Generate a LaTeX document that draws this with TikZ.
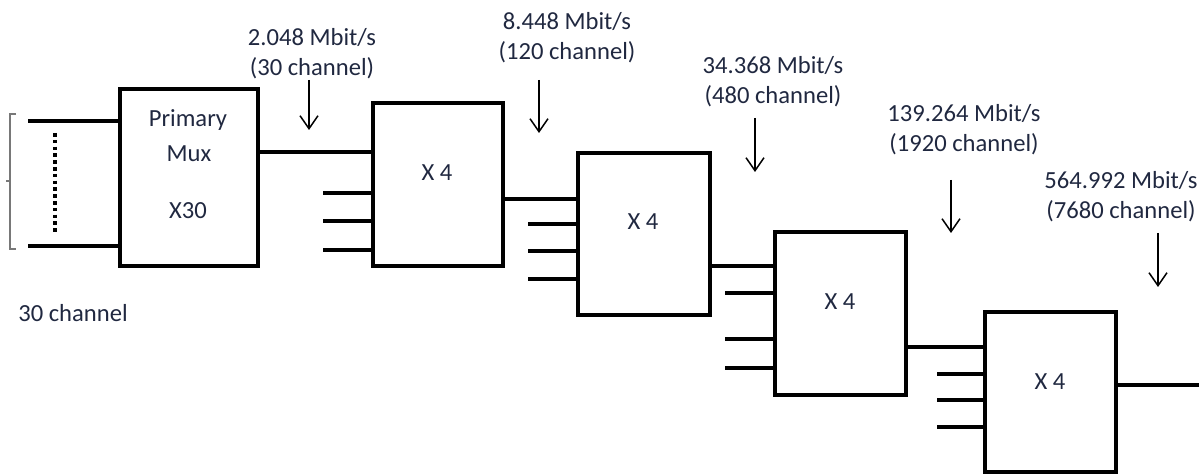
\documentclass[tikz,border=0pt]{standalone}
\usepackage{fontspec}
\setmainfont{Carlito}
\usepackage{tikz}
\usetikzlibrary{arrows.meta,calc}
\definecolor{labelink}{RGB}{32,40,64}
\definecolor{bracketgray}{RGB}{120,120,120}

\begin{document}
\begin{tikzpicture}[x=0.5pt, y=-0.5pt,
        muxbox/.style = {draw, line width=2pt, inner sep=0pt},
        wire/.style = {line width=2pt},
        rate/.style = {line width=0.75pt, -{Straight Barb[length=6.5pt,width=9pt]}},
        txt/.style = {text=labelink, font=\fontsize{12.3}{15}\selectfont, inner sep=0pt, align=center}]
        \useasboundingbox (0,0) rectangle (1199,475);

        % mux boxes
        \node[muxbox, minimum width=69pt, minimum height=88.5pt] (mux) at (189,177.5) {};
        \node[muxbox, minimum width=65pt, minimum height=81.5pt] (xa) at (438,184.5) {};
        \node[muxbox, minimum width=66pt, minimum height=81pt] (xb) at (644,234) {};
        \node[muxbox, minimum width=65.5pt, minimum height=81.5pt] (xc) at (840.5,313.5) {};
        \node[muxbox, minimum width=65.5pt, minimum height=80pt] (xd) at (1050.5,392) {};

        % box texts
        \node[txt] (prim) at (188,120) {Primary};
        \node[txt] (muxt) at (189,154) {Mux};
        \node[txt] (x30) at (188,211) {X30};
        \node[txt] (fa) at (437,173) {X 4};
        \node[txt] (fb) at (643,222) {X 4};
        \node[txt] (fc) at (840,302) {X 4};
        \node[txt] (fd) at (1050,382) {X 4};

        % primary inputs
        \coordinate (ch1) at (28,121);
        \coordinate (ch30) at (28,246);
        \path[draw, wire] (ch1) -- (ch1 -| mux.west);
        \path[draw, wire] (ch30) -- (ch30 -| mux.west);
        \path[draw, line width=2pt, dash pattern=on 1.8pt off 1.6pt] (55,133) -- (55,233);
        % bracket
        \path[draw, bracketgray, line width=0.6pt] (16,114) -| (10,249) -- (16,249);
        \path[draw, bracketgray, line width=0.6pt] (10,181) -- (6,181);
        \node[txt] (chan) at (73,313) {30 channel};

        % links between stages
        \coordinate (l1) at (0,152);
        \coordinate (l2) at (0,199);
        \coordinate (l3) at (0,266);
        \coordinate (l4) at (0,347);
        \coordinate (out) at (1199,385);
        \path[draw, wire] (mux.east |- l1) -- (xa.west |- l1);
        \path[draw, wire] (xa.east |- l2) -- (xb.west |- l2);
        \path[draw, wire] (xb.east |- l3) -- (xc.west |- l3);
        \path[draw, wire] (xc.east |- l4) -- (xd.west |- l4);
        \path[draw, wire] (xd.east |- out) -- (out);

        % tributary inputs
        \foreach \y/\n in {193/a,221/b,250/c}{
            \coordinate (ia\n) at (323,\y);
            \path[draw, wire] (ia\n) -- (ia\n -| xa.west);
        }
        \foreach \y/\n in {224/a,251/b,279/c}{
            \coordinate (ib\n) at (528,\y);
            \path[draw, wire] (ib\n) -- (ib\n -| xb.west);
        }
        \foreach \y/\n in {293/a,339/b,368/c}{
            \coordinate (ic\n) at (725,\y);
            \path[draw, wire] (ic\n) -- (ic\n -| xc.west);
        }
        \foreach \y/\n in {374/a,400/b,427/c}{
            \coordinate (id\n) at (937,\y);
            \path[draw, wire] (id\n) -- (id\n -| xd.west);
        }

        % bit rates
        \node[txt] (r1) at (312,54) {2.048 Mbit/s\\(30 channel)};
        \node[txt] (r2) at (567,38) {8.448 Mbit/s\\(120 channel)};
        \node[txt] (r3) at (773,82) {34.368 Mbit/s\\(480 channel)};
        \node[txt] (r4) at (964,130) {139.264 Mbit/s\\(1920 channel)};
        \node[txt] (r5) at (1121,197) {564.992 Mbit/s\\(7680 channel)};
        \coordinate (a1) at (309,80);
        \coordinate (a2) at (539,80);
        \coordinate (a3) at (755,118);
        \coordinate (a4) at (951,180);
        \coordinate (a5) at (1158,233);
        \path[draw, rate] (a1) -- ++(0,50);
        \path[draw, rate] (a2) -- ++(0,53);
        \path[draw, rate] (a3) -- ++(0,54);
        \path[draw, rate] (a4) -- ++(0,53);
        \path[draw, rate] (a5) -- ++(0,54);
\end{tikzpicture}
\end{document}
